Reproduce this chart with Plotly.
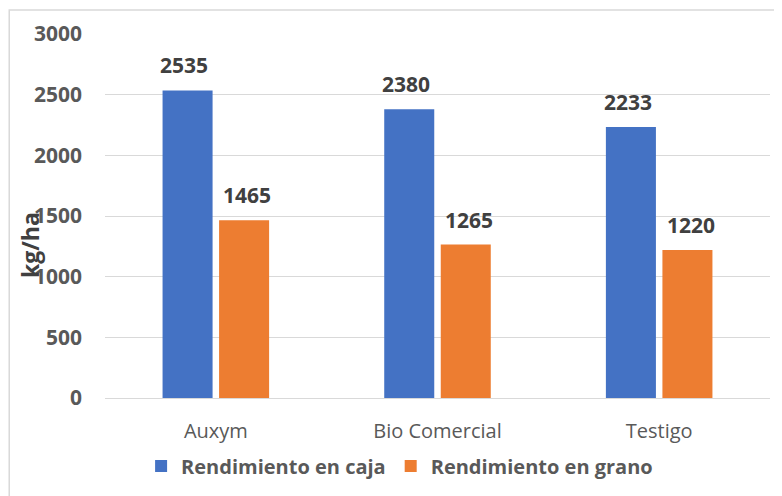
import plotly.graph_objects as go

categories = ["Auxym", "Bio Comercial", "Testigo"]
caja = [2535, 2380, 2233]
grano = [1465, 1265, 1220]
series_names = ["Rendimiento en caja", "Rendimiento en grano"]
y_ticks = [0, 500, 1000, 1500, 2000, 2500, 3000]

FONT = "Open Sans"
BLUE = "#4472C4"
ORANGE = "#ED7D31"

fig = go.Figure()
fig.add_trace(go.Bar(x=categories, y=caja, name=series_names[0], marker=dict(color=BLUE, line=dict(width=0))))
fig.add_trace(go.Bar(x=categories, y=grano, name=series_names[1], marker=dict(color=ORANGE, line=dict(width=0))))

annotations = []
for vals, shift in ((caja, -31.5), (grano, 31.5)):
    for c, v in zip(categories, vals):
        annotations.append(dict(x=c, y=v, xref="x", yref="y", text=str(v), showarrow=False,
                                xshift=shift, yshift=9, yanchor="bottom",
                                font=dict(family=FONT, size=21, color="#404040", weight="bold")))
annotations.append(dict(x=-0.113, y=0.42, xref="paper", yref="paper", text="kg/ha", showarrow=False,
                        xanchor="center", yanchor="middle",
                        textangle=-90, font=dict(family=FONT, size=23, color="#404040", weight="bold")))

# the page body adds an 8px offset, so the figure is 8px smaller and margins compensate
fig.update_layout(
    width=774, height=488,
    margin=dict(l=97, r=12, t=26, b=98, autoexpand=False),
    paper_bgcolor="white", plot_bgcolor="white",
    barmode="group", bargap=0.49, bargroupgap=0.115,
    font=dict(family=FONT, color="#595959"),
    showlegend=True,
    legend=dict(orientation="h", x=0.443, xanchor="center", y=0.0615, yref="container", yanchor="middle",
                font=dict(family=FONT, size=20, color="#595959", weight="bold"),
                itemwidth=30, traceorder="normal"),
    annotations=annotations,
    shapes=[dict(type="rect", xref="paper", yref="paper", x0=-0.144, x1=1.03, y0=-0.35, y1=1.066,
                 line=dict(color="#d9d9d9", width=1.5), fillcolor="rgba(0,0,0,0)", layer="below")],
)
fig.update_yaxes(range=[0, 3000], tickvals=y_ticks, showgrid=True, gridcolor="#d9d9d9", gridwidth=1,
                 zeroline=True, zerolinecolor="#d9d9d9", zerolinewidth=1, showline=False,
                 ticks="", ticklabelstandoff=22, automargin=False,
                 tickfont=dict(family=FONT, size=21, color="#595959", weight="bold"))
fig.update_xaxes(showline=True, linecolor="#d9d9d9", linewidth=1, ticks="", ticklabelstandoff=15,
                 automargin=False,
                 tickfont=dict(family=FONT, size=20, color="#595959"))

fig.write_html("out.html")
